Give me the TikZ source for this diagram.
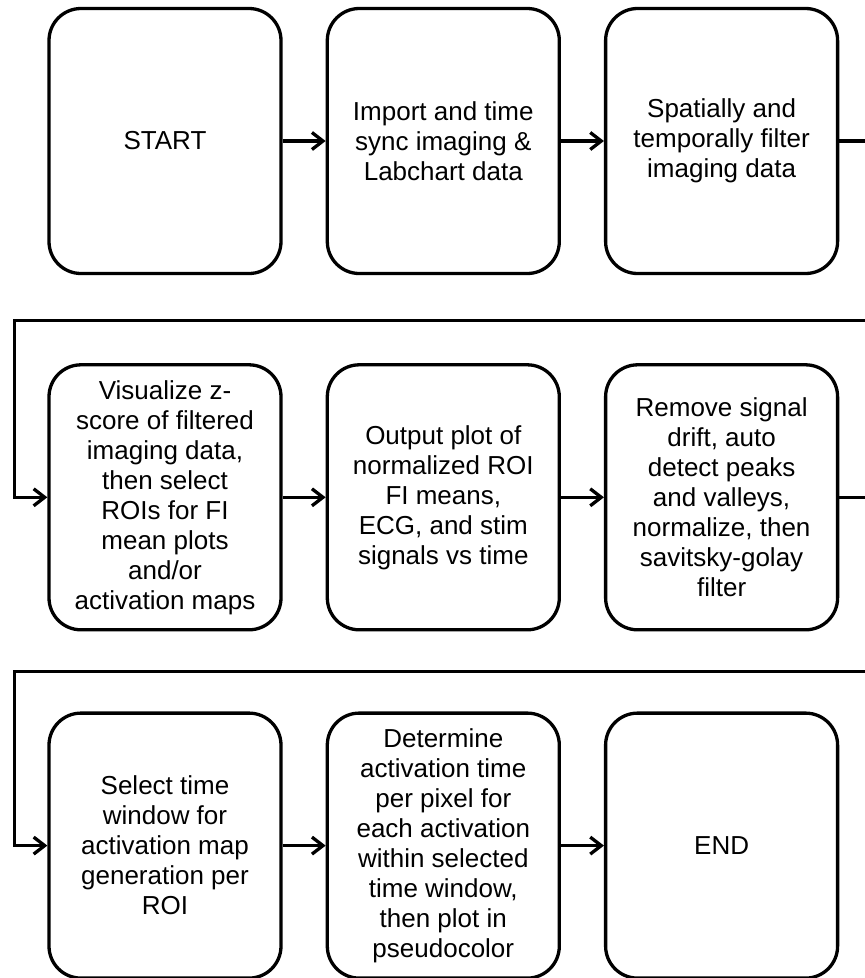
\documentclass[tikz,border=0pt]{standalone}
\usepackage{fontspec}
\setmainfont{Liberation Sans}
\usetikzlibrary{arrows.meta,positioning,calc}

\begin{document}
\begin{tikzpicture}[->,>={Straight Barb[length=11pt,width=17pt]},line width=3.3pt,node distance=43pt,main node/.style={draw,rounded corners=32pt,minimum width=232pt,minimum height=265pt,align=center,font=\fontsize{26}{30}\selectfont}]

            \useasboundingbox (0,0) rectangle (865pt,-978pt);

            \node[main node] (1) at (165pt,-141pt) {START};
            \node[main node] (2) [right=of 1] {Import and time\\sync imaging \&\\Labchart data};
            \node[main node] (3) [right=of 2] {Spatially and\\temporally filter\\imaging data};

            \node[main node] (4) [below=88pt of 1] {Visualize z-\\score of filtered\\imaging data,\\then select\\ROIs for FI\\mean plots\\and/or\\activation maps};
            \node[main node] (5) [right=of 4] {Output plot of\\normalized ROI\\FI means,\\ECG, and stim\\signals vs time};
            \node[main node] (6) [right=of 5] {Remove signal\\drift, auto\\detect peaks\\and valleys,\\normalize, then\\savitsky-golay\\filter};

            \node[main node] (7) [below=80pt of 4] {Select time\\window for\\activation map\\generation per\\ROI};
            \node[main node] (8) [right=of 7] {Determine\\activation time\\per pixel for\\each activation\\within selected\\time window,\\then plot in\\pseudocolor};
            \node[main node] (9) [right=of 8] {END};

            \foreach \curr [
                evaluate = \curr as \next using {int(\curr+1)}
            ] in {1,2,4,5,7,8}{
                \draw (\curr) -- (\next);
            }

            % wrap to the next row
            \draw (3.east) -- ++(40pt,0) |- ($(4.north west)+(-33pt,43pt)$) |- (4.west);
            \draw (6.east) -- ++(40pt,0) |- ($(7.north west)+(-33pt,40pt)$) |- (7.west);

        \end{tikzpicture}
\end{document}
